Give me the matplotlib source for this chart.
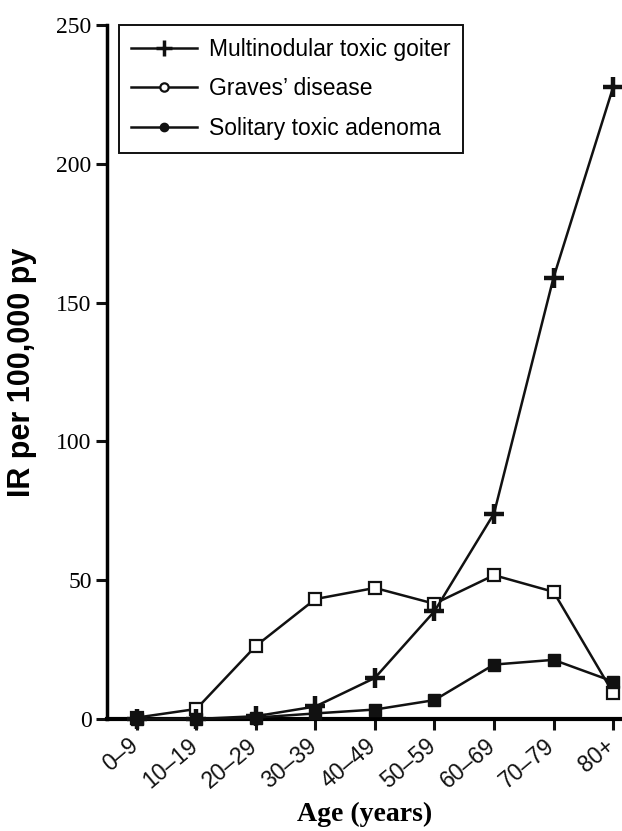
import matplotlib
matplotlib.use("Agg")
import matplotlib.pyplot as plt
import matplotlib.transforms as mtransforms
from matplotlib.lines import Line2D

age_groups = ["0–9", "10–19", "20–29", "30–39", "40–49", "50–59", "60–69", "70–79", "80+"]
multinodular = [0, 0, 1, 4.5, 14.8, 38.8, 74, 159, 227.5]
graves = [0.5, 3.6, 26.3, 43.2, 47.2, 41.5, 51.8, 45.8, 9.4]
solitary = [0, 0, 0.5, 2, 3.4, 6.8, 19.6, 21.3, 13.5]
yticks = [0, 50, 100, 150, 200, 250]
series_names = ["Multinodular toxic goiter", "Graves\u2019 disease", "Solitary toxic adenoma"]

fig = plt.figure(figsize=(6.22, 8.31), dpi=100)
ax = fig.add_axes([0.172, 0.1348, 0.828, 0.8352])
x = list(range(len(age_groups)))
col = "#111111"

ax.plot(x, graves, color=col, lw=1.8, marker="s", ms=8, mfc="white", mec=col, mew=1.6,
        zorder=3, clip_on=False)
ax.plot(x, multinodular, color=col, lw=1.8, marker="+", ms=15, mew=3.2,
        zorder=4, clip_on=False)
ax.plot(x, solitary, color=col, lw=1.8, marker="s", ms=8, mfc=col, mec=col,
        zorder=4, clip_on=False)

handles = [
    Line2D([], [], color=col, lw=1.8, marker="+", ms=11, mew=2.5),
    Line2D([], [], color=col, lw=1.8, marker="o", ms=6, mfc="white", mec=col, mew=1.6),
    Line2D([], [], color=col, lw=1.8, marker="o", ms=6, mfc=col, mec=col),
]
leg = ax.legend(handles, series_names,
                loc="upper left", bbox_to_anchor=(0.023, 1.0), borderaxespad=0,
                fancybox=False, framealpha=1, edgecolor="#111111",
                prop={"family": "Liberation Sans", "size": 16.5}, handlelength=2.85,
                handletextpad=0.52, labelspacing=0.74, borderpad=0.55)
leg.get_frame().set_linewidth(1.4)
leg.set_zorder(10)

ax.set_xlim(-0.5, 8.15)
ax.set_ylim(0, 250)
ax.set_yticks(yticks)
ax.set_yticklabels([str(v) for v in yticks], family="Liberation Serif", fontsize=17)
ax.set_xticks(x)
ax.set_xticklabels([])
offset = mtransforms.ScaledTranslation(-9 / 100, -15 / 100, fig.dpi_scale_trans)
for xi, lab in zip(x, age_groups):
    ax.text(xi, 0, lab, transform=ax.get_xaxis_transform() + offset,
            family="Liberation Sans", fontsize=16.5, rotation=40,
            ha="right", va="top", rotation_mode="anchor", color=col)
ax.spines["top"].set_visible(False)
ax.spines["right"].set_visible(False)
ax.spines["left"].set_linewidth(2.5)
ax.spines["bottom"].set_linewidth(3)
ax.tick_params(axis="both", direction="out", length=8, width=2.2, color=col, pad=4)
ax.tick_params(axis="y", pad=3)

ax.set_ylabel("IR per 100,000 py", family="Liberation Sans", fontweight="bold", fontsize=22, labelpad=14)
ax.set_xlabel("Age (years)", family="Liberation Serif", fontweight="bold", fontsize=20)
ax.xaxis.set_label_coords(0.5, -0.119)

fig.savefig("out.png", dpi=100)
